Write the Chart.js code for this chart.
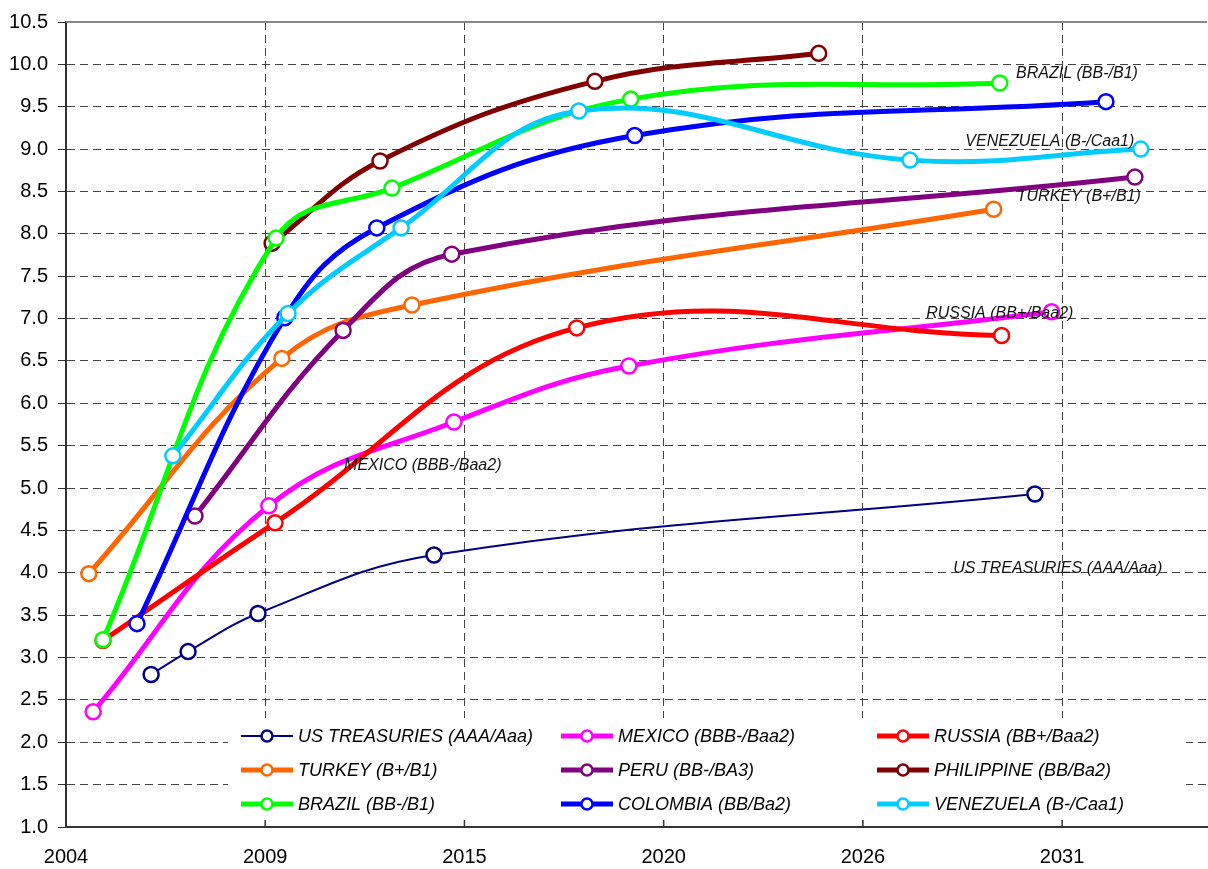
<!DOCTYPE html>
<html lang="en">
<head>
<meta charset="UTF-8">
<title>Curvas de rendimento</title>
<script src="https://cdn.jsdelivr.net/npm/chart.js"></script>
<style>
    html, body { margin: 0; padding: 0; background: #ffffff; }
    canvas { display: block; }
</style>
</head>
<body>
<canvas id="grafico" width="1208" height="869"></canvas>
<script>
    // eixo x: anos (escala linear), rotulos truncados como no original
    const xTickValues = [2004, 2009.5, 2015, 2020.5, 2026, 2031.5];
    const xTickLabels = ['2004', '2009', '2015', '2020', '2026', '2031'];

    const seriesNames = ['US TREASURIES (AAA/Aaa)', 'MEXICO (BBB-/Baa2)', 'RUSSIA (BB+/Baa2)',
        'TURKEY (B+/B1)', 'PERU (BB-/BA3)', 'PHILIPPINE (BB/Ba2)',
        'BRAZIL (BB-/B1)', 'COLOMBIA (BB/Ba2)', 'VENEZUELA (B-/Caa1)'];

    const usYears = [2006.35, 2007.37, 2009.30, 2014.16, 2030.75];
    const usYields = [2.80, 3.07, 3.52, 4.21, 4.93];
    const mexicoYears = [2004.75, 2009.60, 2014.71, 2019.54, 2031.21];
    const mexicoYields = [2.36, 4.79, 5.78, 6.44, 7.08];
    const russiaYears = [2005.02, 2009.77, 2018.10, 2029.83];
    const russiaYields = [3.20, 4.59, 6.89, 6.80];
    const turkeyYears = [2004.63, 2009.96, 2013.55, 2029.61];
    const turkeyYields = [3.99, 6.53, 7.16, 8.29];
    const peruYears = [2007.56, 2011.65, 2014.65, 2033.51];
    const peruYields = [4.67, 6.86, 7.76, 8.67];
    const philippineYears = [2009.69, 2012.67, 2018.60, 2024.78];
    const philippineYields = [7.89, 8.86, 9.80, 10.13];
    const brazilYears = [2005.02, 2009.80, 2013.00, 2019.59, 2029.78];
    const brazilYields = [3.21, 7.95, 8.54, 9.59, 9.78];
    const colombiaYears = [2005.96, 2010.04, 2012.58, 2019.70, 2032.71];
    const colombiaYields = [3.40, 7.01, 8.07, 9.16, 9.56];
    const venezuelaYears = [2006.95, 2010.13, 2013.25, 2018.16, 2027.30, 2033.67];
    const venezuelaYields = [5.38, 7.06, 8.07, 9.45, 8.87, 9.00];

    const seriesYears = [usYears, mexicoYears, russiaYears, turkeyYears, peruYears,
        philippineYears, brazilYears, colombiaYears, venezuelaYears];
    const seriesYields = [usYields, mexicoYields, russiaYields, turkeyYields, peruYields,
        philippineYields, brazilYields, colombiaYields, venezuelaYields];

    const cores = ['#000080', '#ff00ff', '#ff0000', '#ff6600', '#800080',
        '#800000', '#00ff00', '#0000ff', '#00ccff'];

    // textos soltos dentro do grafico (posicao em ano / valor)
    const notaTextos = ['BRAZIL (BB-/B1)', 'VENEZUELA (B-/Caa1)', 'TURKEY (B+/B1)',
        'RUSSIA (BB+/Baa2)', 'MEXICO (BBB-/Baa2)', 'US TREASURIES (AAA/Aaa)'];
    const notaAnos = [2031.91, 2031.16, 2031.96, 2029.78, 2013.85, 2031.38];
    const notaValores = [9.89, 9.09, 8.44, 7.06, 5.26, 4.05];

    const fonte = "'Liberation Sans', Arial, sans-serif";

    const datasets = seriesNames.map((nome, i) => ({
        label: nome,
        data: seriesYears[i].map((ano, k) => ({ x: ano, y: seriesYields[i][k] })),
        borderColor: cores[i],
        backgroundColor: '#ffffff',
        borderWidth: i === 0 ? 2 : 5,
        pointRadius: 7.5,
        pointBorderWidth: 2.5,
        pointBackgroundColor: '#ffffff',
        pointBorderColor: cores[i],
        tension: 0.4,
        order: seriesNames.length - i,
        clip: false
    }));

    // legenda dentro da area do grafico, 3 colunas
    const legendaCols = [241, 561, 877];
    const legendaRows = [736, 770, 804];

    const extras = {
        id: 'extras',
        beforeDatasetsDraw(chart) {
            const { ctx, chartArea } = chart;
            ctx.save();
            ctx.strokeStyle = '#888888';
            ctx.lineWidth = 2;
            ctx.beginPath();
            ctx.moveTo(chartArea.left, chartArea.top);
            ctx.lineTo(chartArea.right, chartArea.top);
            ctx.stroke();
            ctx.restore();
        },
        afterDatasetsDraw(chart) {
            const { ctx, chartArea, scales } = chart;
            ctx.save();

            // caixa da legenda
            ctx.fillStyle = '#ffffff';
            ctx.fillRect(228, 718, 958, 103);

            ctx.font = 'italic 18px ' + fonte;
            ctx.textBaseline = 'middle';
            ctx.textAlign = 'left';
            seriesNames.forEach((nome, i) => {
                const x0 = legendaCols[i % 3];
                const y0 = legendaRows[Math.floor(i / 3)];
                ctx.strokeStyle = cores[i];
                ctx.lineWidth = i === 0 ? 2 : 5;
                ctx.beginPath();
                ctx.moveTo(x0, y0);
                ctx.lineTo(x0 + 52, y0);
                ctx.stroke();
                ctx.beginPath();
                ctx.arc(x0 + 26, y0, 5.5, 0, Math.PI * 2);
                ctx.fillStyle = '#ffffff';
                ctx.fill();
                ctx.lineWidth = 2.5;
                ctx.stroke();
                ctx.fillStyle = '#000000';
                ctx.fillText(nome, x0 + 57, y0 + 1);
            });

            // marcas do eixo x para dentro
            ctx.strokeStyle = '#333333';
            ctx.lineWidth = 1.5;
            xTickValues.forEach(v => {
                const px = scales.x.getPixelForValue(v);
                ctx.beginPath();
                ctx.moveTo(px, chartArea.bottom);
                ctx.lineTo(px, chartArea.bottom - 7);
                ctx.stroke();
            });

            // textos soltos
            ctx.font = 'italic 16px ' + fonte;
            ctx.textAlign = 'center';
            ctx.fillStyle = '#111111';
            notaTextos.forEach((t, i) => {
                ctx.fillText(t, scales.x.getPixelForValue(notaAnos[i]), scales.y.getPixelForValue(notaValores[i]));
            });
            ctx.restore();
        }
    };

    new Chart(document.getElementById('grafico'), {
        type: 'line',
        data: { datasets: datasets },
        options: {
            responsive: false,
            animation: false,
            layout: { autoPadding: false, padding: { top: 20, right: 1, left: 0, bottom: 0 } },
            plugins: {
                legend: { display: false },
                tooltip: { enabled: false }
            },
            scales: {
                x: {
                    type: 'linear',
                    min: 2004,
                    max: 2035.5,
                    afterBuildTicks: s => { s.ticks = xTickValues.map(v => ({ value: v })); },
                    afterFit: s => { s.height = 42; s.paddingLeft = 0; s.paddingRight = 0; },
                    ticks: {
                        callback: (v, i) => xTickLabels[i],
                        font: { family: fonte, size: 20 },
                        color: '#000000',
                        padding: 18,
                        maxRotation: 0,
                        autoSkip: false
                    },
                    grid: { color: '#444444', lineWidth: 1, drawTicks: false },
                    border: { color: '#333333', width: 2, dash: [8, 5] }
                },
                y: {
                    min: 1,
                    max: 10.5,
                    afterFit: s => { s.width = 66; },
                    ticks: {
                        stepSize: 0.5,
                        callback: v => Number(v).toFixed(1),
                        font: { family: fonte, size: 20 },
                        color: '#000000',
                        padding: 10
                    },
                    grid: { color: '#444444', lineWidth: 1, tickLength: 8, tickColor: '#333333', tickBorderDash: [] },
                    border: { color: '#333333', width: 2, dash: [8, 5] }
                }
            }
        },
        plugins: [extras]
    });
</script>
</body>
</html>
